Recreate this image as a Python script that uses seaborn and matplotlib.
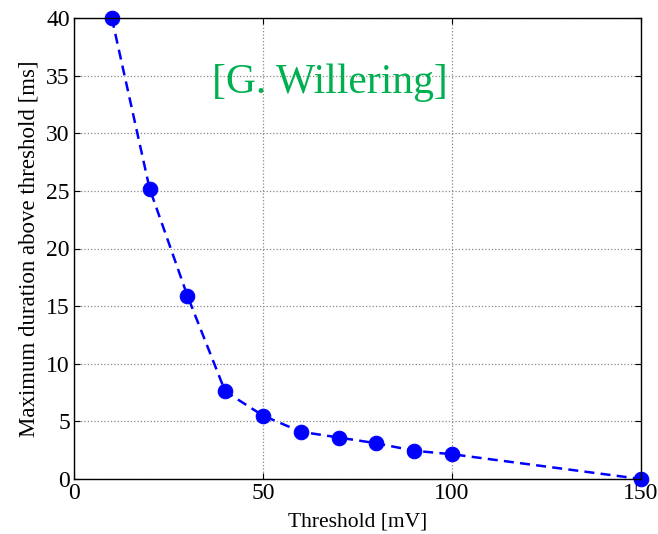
import matplotlib
matplotlib.use("Agg")
import matplotlib.pyplot as plt
import seaborn as sns
import pandas as pd

threshold = [10, 20, 30, 40, 50, 60, 70, 80, 90, 100, 150]
duration = [40.0, 25.2, 15.9, 7.6, 5.5, 4.1, 3.6, 3.1, 2.45, 2.15, 0.0]
xticks = [0, 50, 100, 150]
yticks = [0, 5, 10, 15, 20, 25, 30, 35, 40]

sns.set_theme(style="white")
plt.rcParams['font.family'] = ['Liberation Serif', 'DejaVu Serif']
plt.rcParams['text.color'] = 'black'
plt.rcParams['axes.labelcolor'] = 'black'
plt.rcParams['xtick.color'] = 'black'
plt.rcParams['ytick.color'] = 'black'

df = pd.DataFrame({"Threshold": threshold, "Duration": duration})

fig = plt.figure(figsize=(6.58, 5.34), dpi=100)
ax = fig.add_axes([74/658, 1-479/534, (641-74)/658, (479-18)/534])

sns.lineplot(data=df, x="Threshold", y="Duration", ax=ax, color="#0000FF",
             linestyle="--", linewidth=1.8, marker="o", markersize=10.5,
             markeredgecolor="#0000FF", markerfacecolor="#0000FF", clip_on=False)
ax.lines[0].set_dashes([4, 2.5])

ax.set_xlim(0, 150)
ax.set_ylim(0, 40)
ax.set_xticks(xticks)
ax.set_yticks(yticks)
ax.tick_params(axis='both', direction='in', length=4, width=0.8, labelsize=17,
               top=True, right=True, bottom=True, left=True, colors='black', pad=3)
ax.grid(True, color='#888888', linestyle=':', linewidth=0.9)
for s in ax.spines.values():
    s.set_visible(True)
    s.set_color('black')
    s.set_linewidth(1.0)

ax.set_xlabel("Threshold [mV]", fontsize=15.5, labelpad=6, color='black')
ax.set_ylabel("Maximum duration above threshold [ms]", fontsize=16.5, labelpad=5, color='black')

ax.text(67.7, 34.4, "[G. Willering]", color="#00B050", fontsize=30,
        ha="center", va="center")

fig.savefig("out.png", dpi=100)
